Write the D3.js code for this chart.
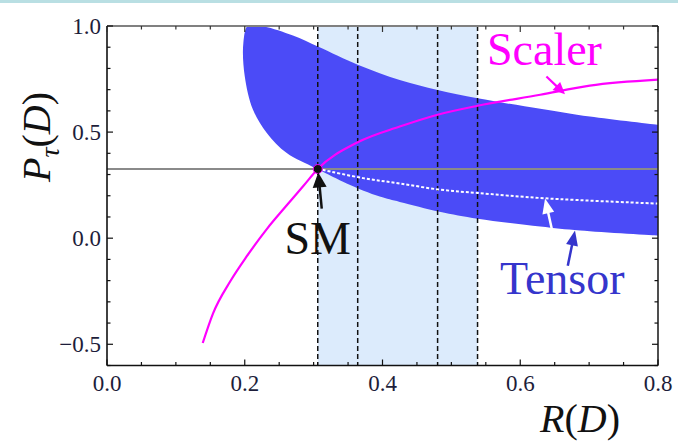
<!DOCTYPE html>
<html lang="en">
<head>
<meta charset="UTF-8">
<title>P_tau(D) vs R(D)</title>
<script src="https://cdn.jsdelivr.net/npm/d3@7"></script>
<style>
    html, body { margin: 0; padding: 0; background: #fff; }
    svg { display: block; }
    .tick-label { font-size: 23px; fill: #1d1d3a; }
    .note { font-size: 46px; }
    .axis-title { font-size: 40px; fill: #111; }
</style>
</head>
<body>
<svg id="chart" width="678" height="442"></svg>
<script>
    // Tick labels
    const xTicks = [0.0, 0.2, 0.4, 0.6, 0.8];
    const yTicks = [-0.5, 0.0, 0.5, 1.0];

    // R(D) measurement band: outer edges and inner edges
    const rdLines = [0.306, 0.364, 0.480, 0.538];

    // SM prediction
    const smPoint = [0.306, 0.326];

    // Scalar coupling curve [R(D), P_tau(D)]
    const scalerCurve = [
        [0.139, -0.494], [0.154, -0.354], [0.179, -0.203], [0.203, -0.085],
        [0.232, 0.043], [0.261, 0.155], [0.285, 0.246], [0.306, 0.326],
        [0.364, 0.452], [0.425, 0.526], [0.480, 0.582], [0.538, 0.624],
        [0.629, 0.676], [0.701, 0.719], [0.800, 0.747]
    ];

    // Tensor region: upper edge (from SM round the left side) and lower edge
    const tensorUpper = [
        [0.306, 0.326], [0.299, 0.336], [0.261, 0.401], [0.232, 0.496],
        [0.212, 0.605], [0.200, 0.763], [0.198, 0.921], [0.205, 1.003],
        [0.228, 0.998], [0.270, 0.955], [0.307, 0.902], [0.365, 0.816],
        [0.425, 0.745], [0.480, 0.698], [0.538, 0.659], [0.629, 0.610],
        [0.701, 0.573], [0.800, 0.534]
    ];
    const tensorLower = [
        [0.306, 0.326], [0.348, 0.258], [0.396, 0.196], [0.425, 0.171],
        [0.483, 0.125], [0.538, 0.092], [0.629, 0.055], [0.687, 0.036],
        [0.800, 0.012]
    ];

    // Tensor central line (white dotted)
    const tensorCentral = [
        [0.306, 0.326], [0.314, 0.321], [0.372, 0.283], [0.425, 0.258],
        [0.483, 0.229], [0.538, 0.213], [0.636, 0.188], [0.800, 0.163]
    ];

    const SERIF = '"Liberation Serif", "DejaVu Serif", "Noto Serif", "Times New Roman", Times, serif';

    const svg = d3.select('#chart');
    const W = 678, H = 442;
    const pLeft = 107, pRight = 658, pTop = 26, pBottom = 365.5;

    const x = d3.scaleLinear().domain([0, 0.8]).range([pLeft, pRight]);
    const y = d3.scaleLinear().domain([-0.6, 1.0]).range([pBottom, pTop]);

    // thin strip at the very top (slide border)
    svg.append('rect').attr('x', 0).attr('y', 0).attr('width', W).attr('height', 3).attr('fill', '#b9dfe3');

    svg.append('clipPath').attr('id', 'plot-clip')
        .append('rect')
        .attr('x', pLeft).attr('y', pTop)
        .attr('width', pRight - pLeft).attr('height', pBottom - pTop);

    const plot = svg.append('g').attr('clip-path', 'url(#plot-clip)');

    // light blue measurement band
    plot.append('rect')
        .attr('x', x(rdLines[0]))
        .attr('y', pTop)
        .attr('width', x(rdLines[3]) - x(rdLines[0]))
        .attr('height', pBottom - pTop)
        .attr('fill', '#dcebfc');

    // tensor region: upper edge, straight cut at the right, lower edge back to SM
    const curvy = d3.line().x(d => x(d[0])).y(d => y(d[1])).curve(d3.curveCatmullRom.alpha(0.5));
    const upperD = curvy(tensorUpper);
    const lowerD = curvy(tensorLower.slice().reverse());
    plot.append('path')
        .attr('d', upperD + 'L' + lowerD.slice(1) + 'Z')
        .attr('fill', '#4b4bf7');

    // dashed vertical lines
    plot.selectAll('.rd-line')
        .data(rdLines)
        .enter()
        .append('line')
        .attr('x1', d => x(d)).attr('x2', d => x(d))
        .attr('y1', pTop).attr('y2', pBottom)
        .attr('stroke', '#111')
        .attr('stroke-width', 1.5)
        .attr('stroke-dasharray', '5,3');

    // SM horizontal line
    plot.append('line')
        .attr('x1', pLeft).attr('x2', pRight)
        .attr('y1', y(smPoint[1])).attr('y2', y(smPoint[1]))
        .attr('stroke', '#8a8a8a')
        .attr('stroke-width', 2.2);

    // white dotted central tensor line
    plot.append('path')
        .attr('d', curvy(tensorCentral))
        .attr('fill', 'none')
        .attr('stroke', '#fff')
        .attr('stroke-width', 2)
        .attr('stroke-dasharray', '3,2');

    // scalar curve
    const smooth = d3.line().x(d => x(d[0])).y(d => y(d[1])).curve(d3.curveMonotoneX);
    plot.append('path')
        .attr('d', smooth(scalerCurve))
        .attr('fill', 'none')
        .attr('stroke', '#ff00ff')
        .attr('stroke-width', 2.2);

    // frame with inward ticks on all sides
    const frame = svg.append('g');
    frame.append('line').attr('x1', pLeft).attr('x2', pRight).attr('y1', pTop).attr('y2', pTop).attr('stroke', '#808080').attr('stroke-width', 2);
    frame.append('line').attr('x1', pRight).attr('x2', pRight).attr('y1', pTop).attr('y2', pBottom).attr('stroke', '#222').attr('stroke-width', 1.6);
    frame.append('line').attr('x1', pLeft).attr('x2', pRight).attr('y1', pBottom).attr('y2', pBottom).attr('stroke', '#111').attr('stroke-width', 1.6);
    frame.append('line').attr('x1', pLeft).attr('x2', pLeft).attr('y1', pTop).attr('y2', pBottom).attr('stroke', '#111').attr('stroke-width', 1.6);

    const isMajor = (v, step) => Math.abs(v / step - Math.round(v / step)) < 1e-6;
    x.ticks(16).forEach(v => {
        const len = isMajor(v, 0.2) ? 6 : 3.5;
        frame.append('line').attr('x1', x(v)).attr('x2', x(v)).attr('y1', pBottom).attr('y2', pBottom - len).attr('stroke', '#111').attr('stroke-width', 1.2);
        frame.append('line').attr('x1', x(v)).attr('x2', x(v)).attr('y1', pTop).attr('y2', pTop + len).attr('stroke', '#333').attr('stroke-width', 1.2);
    });
    y.ticks(16).forEach(v => {
        const len = isMajor(v, 0.5) ? 6 : 3.5;
        frame.append('line').attr('x1', pLeft).attr('x2', pLeft + len).attr('y1', y(v)).attr('y2', y(v)).attr('stroke', '#111').attr('stroke-width', 1.2);
        frame.append('line').attr('x1', pRight).attr('x2', pRight - len).attr('y1', y(v)).attr('y2', y(v)).attr('stroke', '#111').attr('stroke-width', 1.2);
    });

    // tick labels
    svg.selectAll('.x-label')
        .data(xTicks)
        .enter()
        .append('text')
        .attr('class', 'tick-label')
        .attr('font-family', SERIF)
        .attr('x', d => x(d))
        .attr('y', 391)
        .attr('text-anchor', 'middle')
        .text(d => d.toFixed(1));

    svg.selectAll('.y-label')
        .data(yTicks)
        .enter()
        .append('text')
        .attr('class', 'tick-label')
        .attr('font-family', SERIF)
        .attr('x', 101)
        .attr('y', d => y(d))
        .attr('dy', '0.34em')
        .attr('text-anchor', 'end')
        .text(d => d < 0 ? '\u2212' + Math.abs(d).toFixed(1) : d.toFixed(1));

    // axis titles
    const yTitle = svg.append('text')
        .attr('class', 'axis-title')
        .attr('font-family', SERIF)
        .attr('transform', 'translate(50,137) rotate(-90)')
        .attr('text-anchor', 'middle');
    yTitle.append('tspan').attr('font-style', 'italic').text('P');
    yTitle.append('tspan').attr('font-style', 'italic').attr('font-size', 28).attr('dy', 9).text('τ');
    yTitle.append('tspan').attr('dy', -9).text('(');
    yTitle.append('tspan').attr('font-style', 'italic').text('D');
    yTitle.append('tspan').text(')');

    const xTitle = svg.append('text')
        .attr('class', 'axis-title')
        .attr('font-family', SERIF)
        .attr('x', 580)
        .attr('y', 432)
        .attr('text-anchor', 'middle');
    xTitle.append('tspan').attr('font-style', 'italic').text('R');
    xTitle.append('tspan').text('(');
    xTitle.append('tspan').attr('font-style', 'italic').text('D');
    xTitle.append('tspan').text(')');

    // SM point
    svg.append('circle')
        .attr('cx', x(smPoint[0]))
        .attr('cy', y(smPoint[1]))
        .attr('r', 4.5)
        .attr('fill', '#111')
        .attr('stroke', '#ff00ff')
        .attr('stroke-width', 1);

    // arrows: shaft plus filled head
    function arrow(from, to, color, headLen, headWidth, width) {
        const x1 = x(from[0]), y1 = y(from[1]), x2 = x(to[0]), y2 = y(to[1]);
        const a = Math.atan2(y2 - y1, x2 - x1);
        const bx = x2 - headLen * Math.cos(a), by = y2 - headLen * Math.sin(a);
        svg.append('line')
            .attr('x1', x1).attr('y1', y1)
            .attr('x2', bx + 2 * Math.cos(a)).attr('y2', by + 2 * Math.sin(a))
            .attr('stroke', color)
            .attr('stroke-width', width);
        const px = -Math.sin(a) * headWidth / 2, py = Math.cos(a) * headWidth / 2;
        svg.append('path')
            .attr('d', `M${x2},${y2}L${bx + px},${by + py}L${bx - px},${by - py}Z`)
            .attr('fill', color);
    }

    arrow([0.3118, 0.139], [0.3067, 0.31], '#111', 15, 14, 2.5);
    arrow([0.638, 0.762], [0.665, 0.678], '#ff00ff', 12, 11, 2.2);
    arrow([0.6577, -0.13], [0.636, 0.187], '#fff', 15, 12, 2.5);
    arrow([0.669, -0.13], [0.6795, 0.036], '#3535cc', 15, 12, 2.5);

    // annotations
    svg.append('text').attr('class', 'note').attr('font-family', SERIF).attr('x', x(0.5517)).attr('y', y(0.818)).attr('fill', '#ff00ff').text('Scaler');
    svg.append('text').attr('class', 'note').attr('font-family', SERIF).attr('x', x(0.5706)).attr('y', y(-0.262)).attr('fill', '#3535cc').text('Tensor');
    svg.append('text').attr('class', 'note').attr('font-family', SERIF).attr('x', x(0.306)).attr('y', y(-0.0725)).attr('text-anchor', 'middle').attr('fill', '#111').text('SM');
</script>
</body>
</html>
